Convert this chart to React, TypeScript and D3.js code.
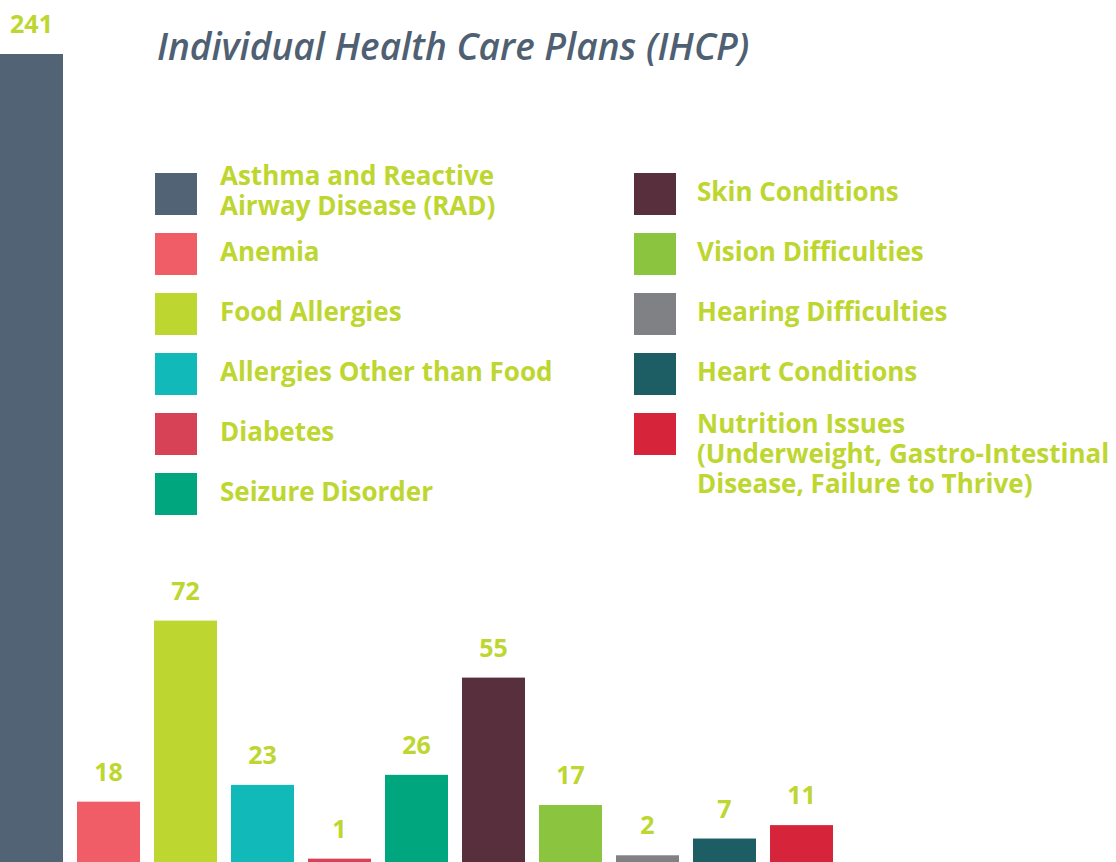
import React from 'react';
import * as d3 from 'd3';

// categories and counts
const categories = [
  'Asthma and Reactive Airway Disease (RAD)',
  'Anemia',
  'Food Allergies',
  'Allergies Other than Food',
  'Diabetes',
  'Seizure Disorder',
  'Skin Conditions',
  'Vision Difficulties',
  'Hearing Difficulties',
  'Heart Conditions',
  'Nutrition Issues (Underweight, Gastro-Intestinal Disease, Failure to Thrive)',
];
const values = [241, 18, 72, 23, 1, 26, 55, 17, 2, 7, 11];
const colors = [
  '#526375', '#f05d66', '#bdd630', '#12b9b9', '#d74256', '#00a77e',
  '#582f3d', '#8bc43f', '#808184', '#1c5e63', '#d6253a',
];
// legend text broken into lines as in the original
const legendLines = [
  ['Asthma and Reactive', 'Airway Disease (RAD)'],
  ['Anemia'],
  ['Food Allergies'],
  ['Allergies Other than Food'],
  ['Diabetes'],
  ['Seizure Disorder'],
  ['Skin Conditions'],
  ['Vision Difficulties'],
  ['Hearing Difficulties'],
  ['Heart Conditions'],
  ['Nutrition Issues', '(Underweight, Gastro-Intestinal', 'Disease, Failure to Thrive)'],
];
const title = 'Individual Health Care Plans (IHCP)';

const W = 1116;
const H = 862;
const labelGreen = '#bdd630';
const font = '"Open Sans", "Noto Sans", sans-serif';

export default function App() {
  // set the ranges
  const x = d3.scaleBand().domain(categories).range([0, 833]).paddingInner(0.182).paddingOuter(0);
  const y = d3.scaleLinear().domain([0, 241]).range([H, 54]);

  const sw = 42;
  const rowStep = 60;

  return (
    <svg
      width={W}
      height={H}
      style={{ position: 'absolute', left: 0, top: 0, background: '#fff' }}
      fontFamily={font}
    >
      <text x={157} y={60} fontSize={37} fontStyle="italic" fontWeight={600} fill="#4f6072">
        {title}
      </text>

      {categories.map((c, i) => {
        const col = i < 6 ? 0 : 1;
        const row = i < 6 ? i : i - 6;
        const sx = col === 0 ? 155 : 634;
        const tx = col === 0 ? 220 : 697;
        const sy = 173 + row * rowStep;
        const lines = legendLines[i];
        const first = lines.length === 1 ? sy + 28 : lines.length === 2 ? sy + 12 : sy + 20;
        return (
          <g key={'lg' + i}>
            <rect x={sx} y={sy} width={sw} height={sw} fill={colors[i]} />
            <text x={tx} y={first} fontSize={26} fontWeight={700} fill={labelGreen}>
              {lines.map((l, j) => (
                <tspan key={j} x={tx} dy={j === 0 ? 0 : 30}>
                  {l}
                </tspan>
              ))}
            </text>
          </g>
        );
      })}

      {categories.map((c, i) => (
        <g key={'b' + i}>
          <rect
            x={x(c)}
            y={y(values[i])}
            width={x.bandwidth()}
            height={H - y(values[i])}
            fill={colors[i]}
          />
          <text
            x={(x(c) as number) + x.bandwidth() / 2}
            y={y(values[i]) - 21}
            textAnchor="middle"
            fontSize={25}
            fontWeight={700}
            fill={labelGreen}
          >
            {values[i]}
          </text>
        </g>
      ))}
    </svg>
  );
}
